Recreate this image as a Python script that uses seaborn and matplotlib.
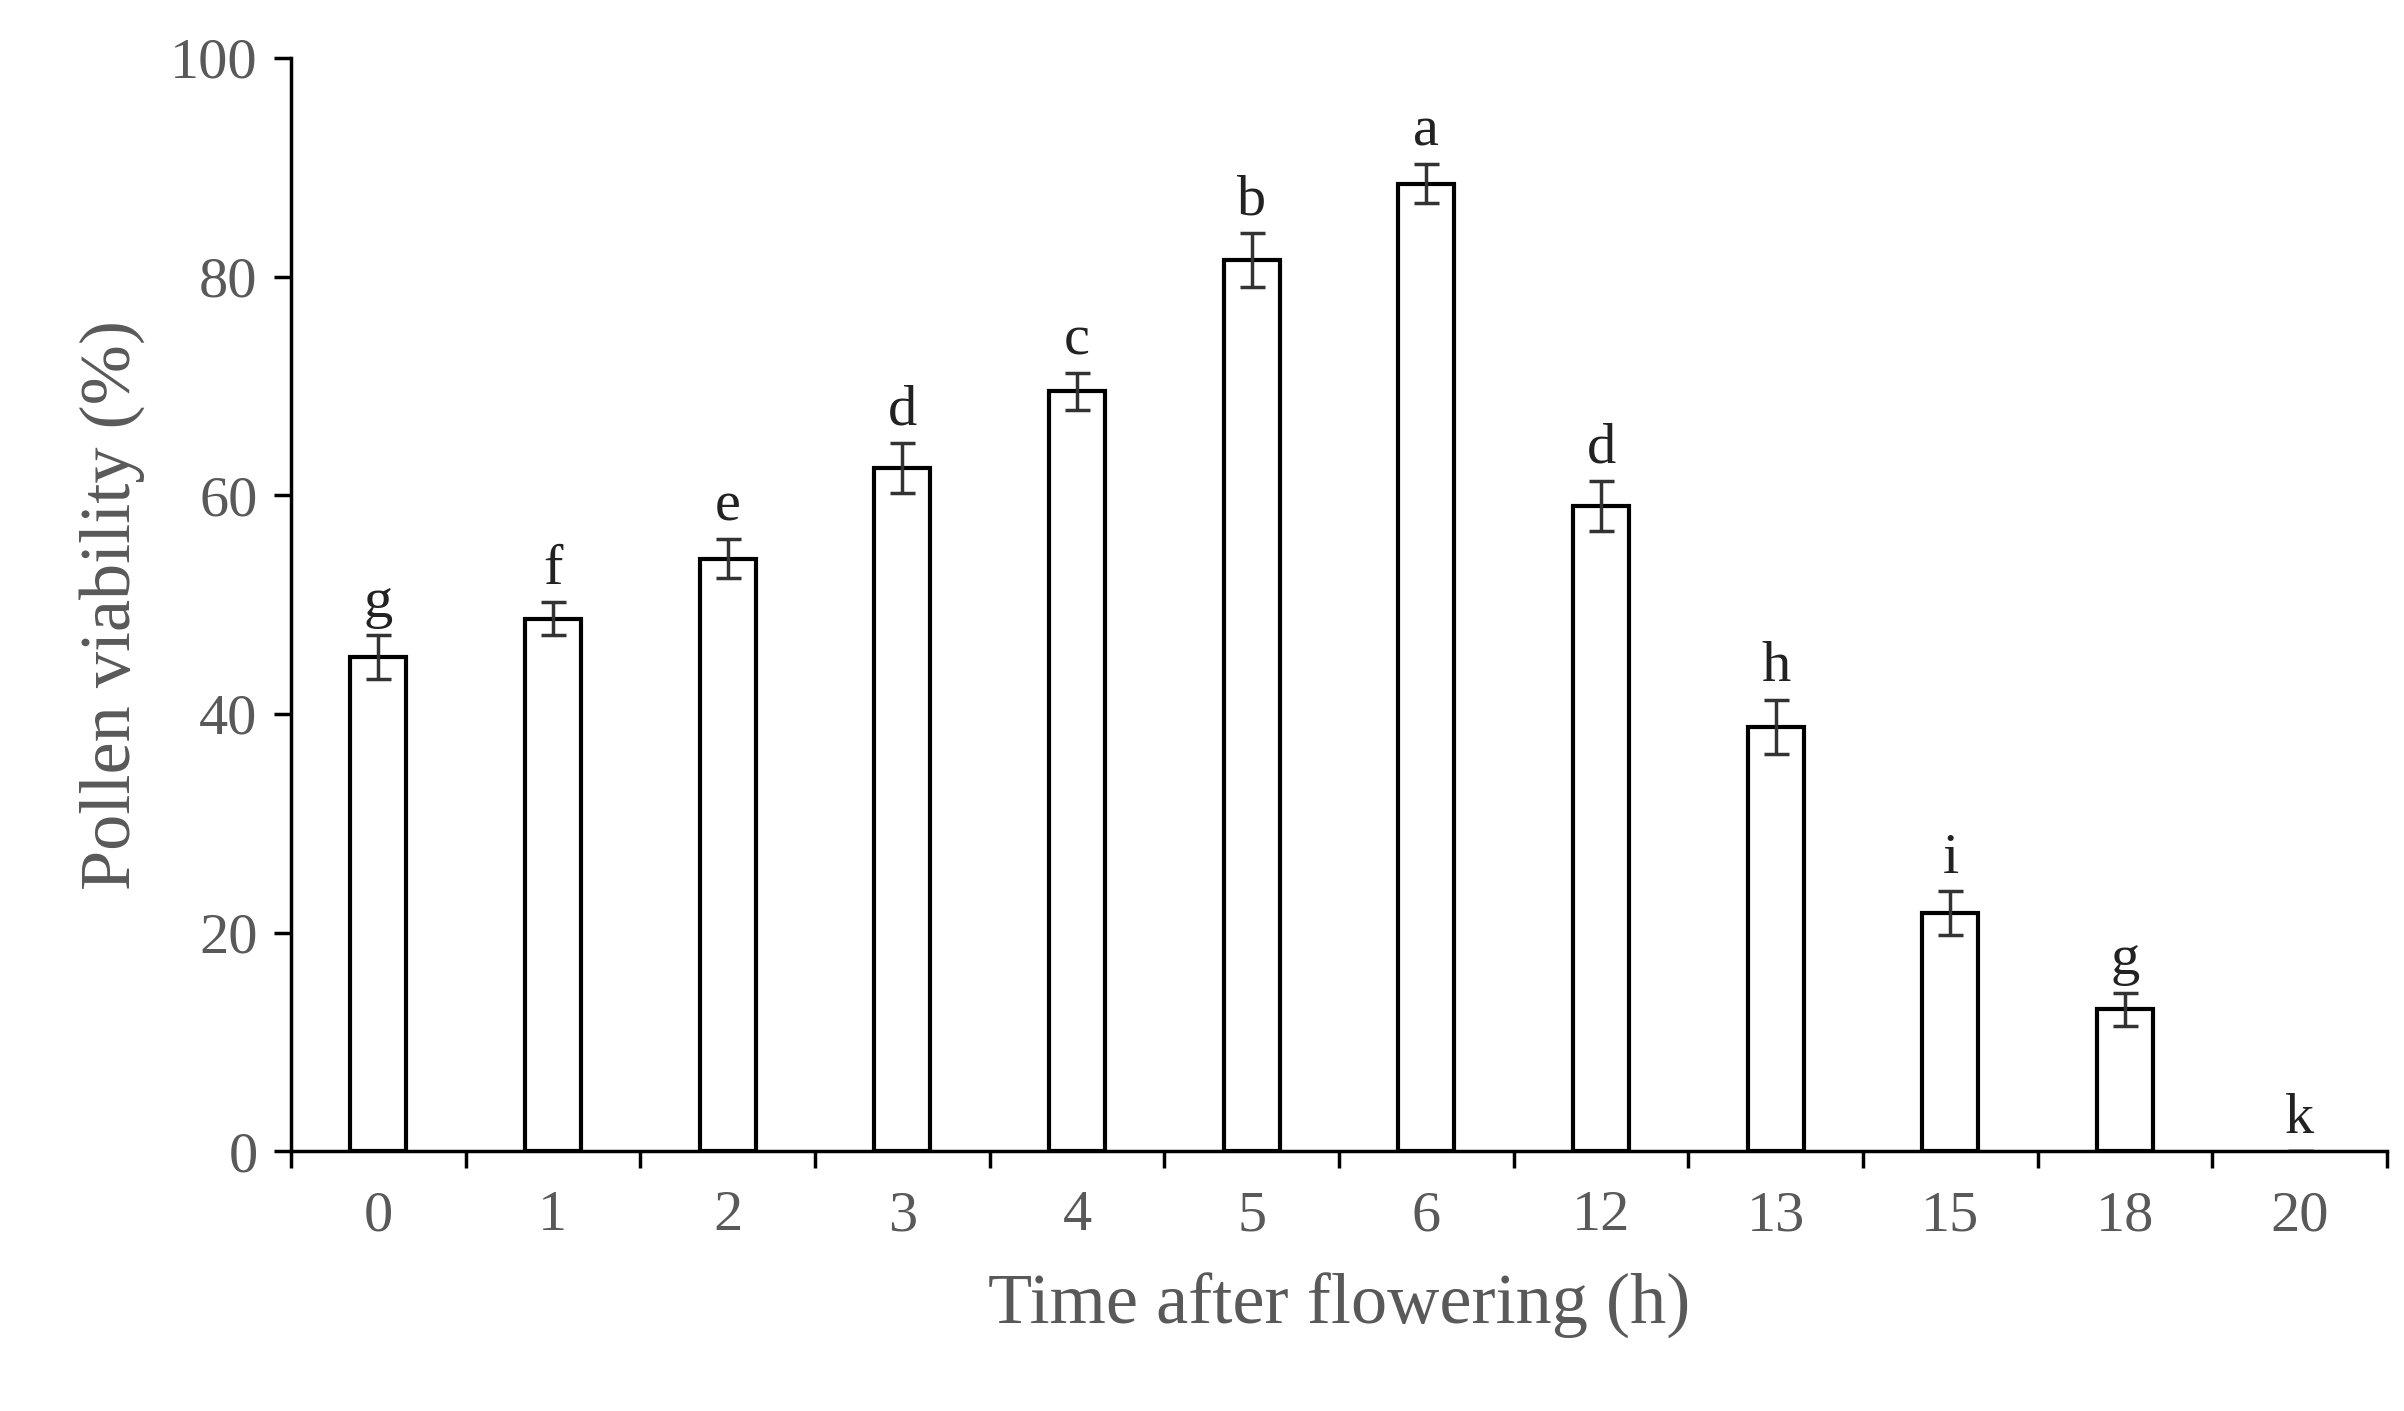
import matplotlib.pyplot as plt
import seaborn as sns
import pandas as pd
import numpy as np

horas = ["0", "1", "2", "3", "4", "5", "6", "12", "13", "15", "18", "20"]
viabilidade = [45.2, 48.7, 54.2, 62.5, 69.5, 81.5, 88.5, 59.0, 38.8, 21.8, 13.0, 0.0]
erro = [2.0, 1.5, 1.8, 2.3, 1.7, 2.5, 1.8, 2.3, 2.5, 2.0, 1.5, 0.0]
letras = ["g", "f", "e", "d", "c", "b", "a", "d", "h", "i", "g", "k"]

df = pd.DataFrame({"hora": horas, "viab": viabilidade})

sns.set_style("white")
plt.rcParams["font.family"] = ["Liberation Serif", "DejaVu Serif"]
cinza = "#595959"

fig = plt.figure(figsize=(24.04, 14.11), dpi=100)
ax = fig.add_axes([0.121, 0.184, 0.872, 0.775])
sns.barplot(data=df, x="hora", y="viab", color="white", edgecolor="black",
            linewidth=3, width=0.32, errorbar=None, ax=ax)
# barra de altura zero nao aparece no original
for p, v in zip(ax.patches, viabilidade):
    if v == 0:
        p.set_linewidth(0)

pos = np.arange(len(horas))
ax.errorbar(pos, viabilidade, yerr=erro, fmt="none", ecolor="#333333",
            elinewidth=2.5, capsize=9, capthick=2.5)
for x, v, e, l in zip(pos, viabilidade, erro, letras):
    ax.text(x, v + e + 0.6, l, ha="center", va="bottom", fontsize=42, color="#222222")

ax.set_ylim(0, 100)
ax.set_xlim(-0.5, len(horas) - 0.5)
ax.set_yticks(range(0, 101, 20))
ax.set_xticks(pos, minor=False)
ax.set_xticks(np.arange(-0.5, len(horas), 1.0), minor=True)
ax.tick_params(axis="x", which="major", length=0, pad=28, labelsize=42, labelcolor=cinza)
ax.tick_params(axis="x", which="minor", length=12, width=2.5, direction="out", bottom=True, color="black")
ax.tick_params(axis="y", length=12, width=2.5, direction="out", left=True, labelsize=42,
               labelcolor=cinza, color="black", pad=12)

for s in ["top", "right"]:
    ax.spines[s].set_visible(False)
for s in ["left", "bottom"]:
    ax.spines[s].set_linewidth(2.5)
    ax.spines[s].set_color("black")

ax.set_xlabel("Time after flowering (h)", fontsize=52, color=cinza, labelpad=22)
ax.set_ylabel("Pollen viability (%)", fontsize=52, color=cinza, labelpad=18)

fig.savefig("out.png", dpi=100, facecolor="white")
